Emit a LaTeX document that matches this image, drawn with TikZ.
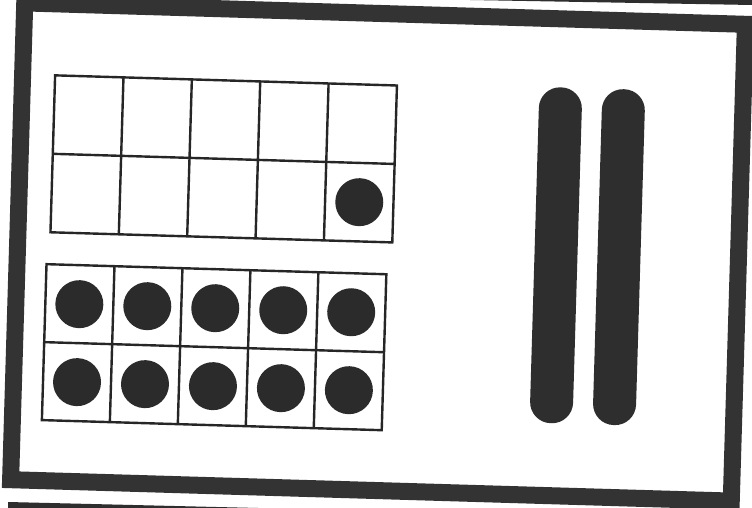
\documentclass[tikz,border=0pt]{standalone}
\begin{document}
\begin{tikzpicture}[x=1pt,y=-1pt,
  ink/.style={fill=black!82},
  cardborder/.style={draw=black!80,line width=17pt,fill=white},
  gridline/.style={draw=black!85,line width=2.4pt},
  counter/.style={fill=black!83},
  rodbar/.style={fill=black!82,rounded corners=21pt}]
\useasboundingbox (0,0) rectangle (752,508);
\fill[white] (0,0) rectangle (752,508);
% edges of neighbouring cards
\fill[ink] (470,0) -- (752,0) -- (752,5) -- cycle;
\fill[ink] (8,502) -- (300,509) -- (8,509) -- cycle;
\begin{scope}[shift={(378,252)},rotate=-1.7]
  % card
  \draw[cardborder] (-360.5,-238.5) rectangle (360.5,238.5);
  % upper ten-frame
  \draw[gridline] (-328,-167) rectangle (14,-10);
  \draw[gridline] (-328,-88.5) -- (14,-88.5);
  \foreach \i in {1,2,3,4}
    \draw[gridline] ({-328+\i*68.4},-167) -- ({-328+\i*68.4},-10);
  \fill[counter] ({-328+4.5*68.4},{-167+1.5*78.5}) circle[radius=24];
  % lower ten-frame
  \draw[gridline] (-331,22) rectangle (9,178);
  \draw[gridline] (-331,100) -- (9,100);
  \foreach \i in {1,2,3,4}
    \draw[gridline] ({-331+\i*68},22) -- ({-331+\i*68},178);
  \foreach \i in {0,...,4}
    \foreach \j in {0,1}
      \fill[counter] ({-331+(\i+0.5)*68},{22+(\j+0.5)*78}) circle[radius=24];
  % rods
  \fill[rodbar] (156.5,-170) rectangle (199.5,166);
  \fill[rodbar] (219.5,-170) rectangle (262.5,166);
\end{scope}
\end{tikzpicture}
\end{document}
